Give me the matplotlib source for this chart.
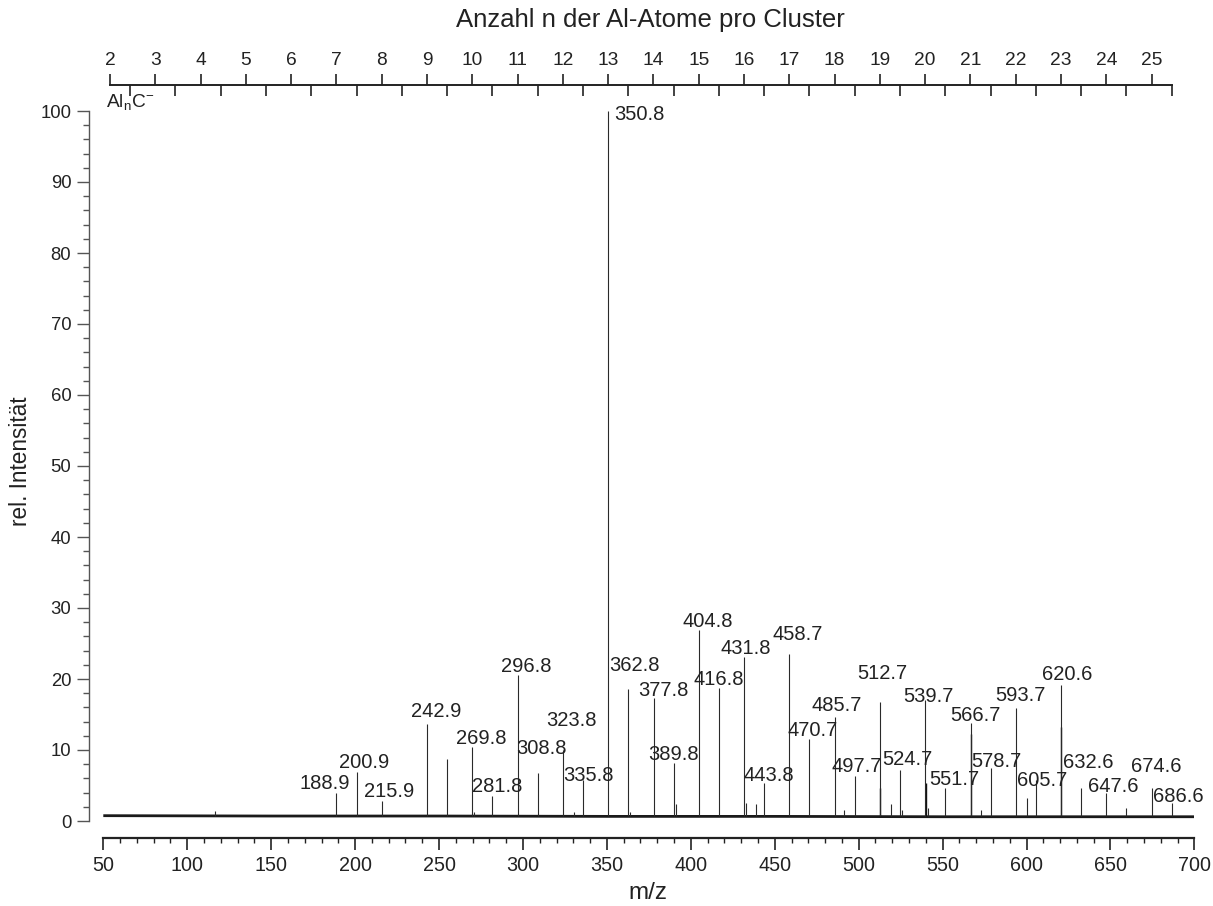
import matplotlib
matplotlib.use("Agg")
import matplotlib.pyplot as plt
from matplotlib.ticker import MultipleLocator, FixedLocator, FixedFormatter, NullFormatter

plt.rcParams['font.family'] = ['Liberation Sans', 'DejaVu Sans']
plt.rcParams['mathtext.fontset'] = 'custom'
plt.rcParams['mathtext.rm'] = 'Liberation Sans'
plt.rcParams['mathtext.it'] = 'Liberation Sans'

# labelled peaks (m/z, relative intensity)
peak_mz = [188.9, 200.9, 215.9, 242.9, 269.8, 281.8, 296.8, 308.8, 323.8, 335.8,
           350.8, 362.8, 377.8, 389.8, 404.8, 416.8, 431.8, 443.8, 458.7, 470.7,
           485.7, 497.7, 512.7, 524.7, 539.7, 551.7, 566.7, 578.7, 593.7, 605.7,
           620.6, 632.6, 647.6, 674.6, 686.6]
peak_int = [4.0, 6.9, 2.8, 13.7, 10.4, 3.5, 20.5, 6.8, 10.0, 5.8,
            100.0, 18.6, 17.3, 8.2, 26.9, 18.7, 23.1, 5.3, 23.5, 11.6,
            14.6, 6.4, 16.7, 7.2, 17.0, 4.6, 13.8, 7.4, 15.9, 5.8,
            19.2, 4.7, 4.0, 4.6, 2.5]

# smaller, unlabelled peaks
minor_mz = [116.5, 254.9, 270.8, 330.4, 364.0, 391.0, 433.0, 438.8, 491.0,
            519.5, 526.0, 541.0, 573.0, 600.5, 659.5]
minor_int = [1.4, 8.8, 1.3, 1.3, 1.2, 2.4, 2.6, 2.4, 1.5,
             2.4, 1.5, 1.8, 1.5, 3.2, 1.8]

# narrow companion traces next to some main peaks
shoulder_mz = [512.9, 539.9, 566.9, 620.8]
shoulder_int = [4.6, 5.4, 12.3, 13.3]

# noise floor of the spectrum
baseline_mz = [50, 150, 250, 350, 450, 550, 650, 700]
baseline_int = [0.75, 0.7, 0.7, 0.65, 0.65, 0.6, 0.6, 0.6]

# cluster size axis: Al_n masses (labelled) and Al_nC masses
n_atoms = list(range(2, 26))
m_al = 26.98
m_c = 12.01

# label offsets in pixels (dx from the peak, dy of the text centre from the peak top)
label_offsets = {
    188.9: (-11.5, -11), 200.9: (7.3, -11.6), 215.9: (7.3, -11.5), 242.9: (8.8, -14),
    269.8: (8.8, -10.6), 281.8: (4.7, -11), 296.8: (8.5, -10.6), 308.8: (4.1, -25.5),
    323.8: (8.6, -31), 335.8: (5.8, -6), 350.8: (30.7, 1.3), 362.8: (5.7, -25),
    377.8: (10, -9), 389.8: (0, -10), 404.8: (8.7, -10), 416.8: (-0.3, -10.7),
    431.8: (1.2, -10), 443.8: (4.3, -10), 458.7: (8.7, -21.3), 470.7: (3.3, -10),
    485.7: (1.8, -13.3), 497.7: (2.2, -11.2), 512.7: (2.7, -30.3), 524.7: (6.8, -12.2),
    539.7: (3, -6), 551.7: (8.4, -10.2), 566.7: (4.3, -9.7), 578.7: (5.4, -9),
    593.7: (4.5, -14.7), 605.7: (6, -1), 620.6: (5.6, -12), 632.6: (7.4, -26.7),
    647.6: (6.7, -8), 674.6: (4, -23.5), 686.6: (6.7, -8),
}

W, H = 1213, 906
PX = 72.0 / 100.0  # points per pixel
LABEL_FS = 14.5

fig = plt.figure(figsize=(W / 100, H / 100), dpi=100)
ax = fig.add_axes([103.3 / W, (H - 821) / H, 1091.1 / W, 710 / H])
ax.set_xlim(50, 700)
ax.set_ylim(0, 100)

line_col = '#2a2a2a'
base = 0.65
ax.plot(baseline_mz, baseline_int, color='#1a1a1a', lw=2.0, solid_capstyle='butt')
ax.vlines(minor_mz, base, minor_int, color=line_col, lw=0.8)
ax.vlines(shoulder_mz, base, shoulder_int, color='#111111', lw=1.0)
ax.vlines(peak_mz, base, peak_int, color=line_col, lw=0.8, clip_on=False)

for mz, h in zip(peak_mz, peak_int):
    dx, dy = label_offsets[mz]
    ax.annotate(f"{mz:.1f}", xy=(mz, h), xytext=(dx * PX, -(dy + 7.2) * PX),
                textcoords='offset points', ha='center', va='baseline',
                fontsize=LABEL_FS, color='#222222', annotation_clip=False)

# main axes styling
for s in ('top', 'right'):
    ax.spines[s].set_visible(False)
ax.spines['left'].set_position(('outward', 14 * PX))
ax.spines['bottom'].set_position(('outward', 17 * PX))
ax.spines['left'].set_color('#555555')
ax.spines['left'].set_linewidth(1.0)
ax.spines['bottom'].set_color('#222222')
ax.spines['bottom'].set_linewidth(1.6)

ax.xaxis.set_major_locator(MultipleLocator(50))
ax.xaxis.set_minor_locator(MultipleLocator(10))
ax.yaxis.set_major_locator(MultipleLocator(10))
ax.yaxis.set_minor_locator(MultipleLocator(2))
ax.tick_params(axis='x', which='major', direction='out', length=12 * PX, width=1.2,
               pad=6 * PX, labelsize=14.2, colors='#222222')
ax.tick_params(axis='x', which='minor', direction='out', length=5 * PX, width=1.0, colors='#222222')
ax.tick_params(axis='y', which='major', direction='out', length=12 * PX, width=1.0,
               pad=6 * PX, labelsize=13.3, color='#555555', labelcolor='#222222')
ax.tick_params(axis='y', which='minor', direction='out', length=6 * PX, width=1.0, color='#555555')

# cluster size axis on top
ax2 = ax.twiny()
ax2.set_xlim(50, 700)
for s in ('bottom', 'left', 'right'):
    ax2.spines[s].set_visible(False)
ax2.spines['top'].set_position(('outward', 26 * PX))
ax2.spines['top'].set_bounds(n_atoms[0] * m_al, n_atoms[-1] * m_al + m_c)
ax2.spines['top'].set_linewidth(1.4)
ax2.spines['top'].set_color('#222222')
ax2.xaxis.set_major_locator(FixedLocator([n * m_al for n in n_atoms]))
ax2.xaxis.set_major_formatter(FixedFormatter([str(n) for n in n_atoms]))
ax2.xaxis.set_minor_locator(FixedLocator([n * m_al + m_c for n in n_atoms]))
ax2.xaxis.set_minor_formatter(NullFormatter())
ax2.tick_params(axis='x', which='major', direction='out', length=11 * PX, width=1.2,
                pad=5 * PX, labelsize=13.8, colors='#222222')
ax2.tick_params(axis='x', which='minor', direction='in', length=11 * PX, width=1.2,
                colors='#222222')

fig.text(106 / W, (H - 107) / H, r'Al$_\mathregular{n}$C$^\mathregular{-}$',
         fontsize=13.8, ha='left', va='baseline', color='#222222')

fig.text(650 / W, 1 - 20 / H, 'Anzahl n der Al-Atome pro Cluster', ha='center', va='center',
         fontsize=18.5, color='#222222')
fig.text(648 / W, 1 - 893 / H, 'm/z', ha='center', va='center', fontsize=17.5, color='#222222')
fig.text(20.5 / W, 1 - 461 / H, 'rel. Intensität', ha='center', va='center', rotation=90,
         fontsize=16.3, color='#222222')

fig.savefig('out.png', dpi=100, facecolor='white')
